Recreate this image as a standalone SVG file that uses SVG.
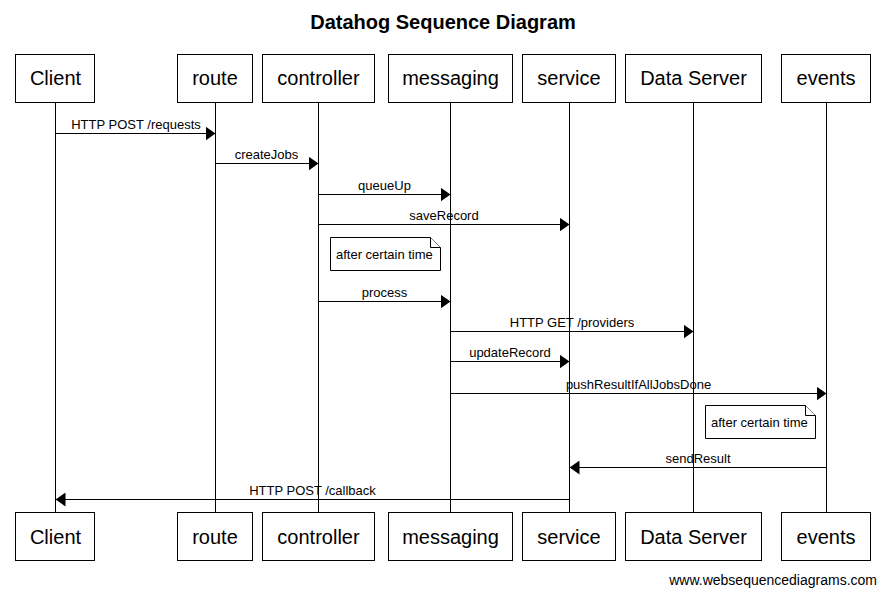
<svg xmlns="http://www.w3.org/2000/svg" width="885" height="595" viewBox="0 0 885 595">
<defs>
<marker id="ah" markerUnits="userSpaceOnUse" markerWidth="10" markerHeight="14" refX="10" refY="7" orient="auto">
<path d="M0,0 L10,7 L0,14 Z" fill="#000"/>
</marker>
<style>
.box{fill:#fff;stroke:#000;stroke-width:1}
.life{stroke:#000;stroke-width:1;fill:none}
.msg{stroke:#000;stroke-width:1;fill:none;marker-end:url(#ah)}
.pt{font-family:"Liberation Sans",Arial,sans-serif;font-size:20px;text-anchor:middle;fill:#000}
.ml{font-family:"Liberation Sans",Arial,sans-serif;font-size:13px;text-anchor:middle;fill:#000}
.nt{font-family:"Liberation Sans",Arial,sans-serif;font-size:13px;fill:#000}
.note{fill:#fff;stroke:#000;stroke-width:1}
</style>
</defs>
<rect width="885" height="595" fill="#fff"/>
<text x="443" y="29" font-family="'Liberation Sans',Arial,sans-serif" font-size="20" font-weight="bold" text-anchor="middle">Datahog Sequence Diagram</text>
<g id="lifelines">
<line class="life" x1="55.5" y1="103" x2="55.5" y2="512"/>
<line class="life" x1="215.5" y1="103" x2="215.5" y2="512"/>
<line class="life" x1="318.5" y1="103" x2="318.5" y2="512"/>
<line class="life" x1="450.5" y1="103" x2="450.5" y2="512"/>
<line class="life" x1="569.5" y1="103" x2="569.5" y2="512"/>
<line class="life" x1="693.5" y1="103" x2="693.5" y2="512"/>
<line class="life" x1="826.5" y1="103" x2="826.5" y2="512"/>
</g>
<g id="Client">
<rect class="box" x="15.5" y="54.5" width="79" height="48"/><text class="pt" x="55.5" y="85">Client</text>
<rect class="box" x="15.5" y="512.5" width="79" height="48"/><text class="pt" x="55.5" y="544">Client</text>
</g>
<g id="route">
<rect class="box" x="177.5" y="54.5" width="75" height="48"/><text class="pt" x="215" y="85">route</text>
<rect class="box" x="177.5" y="512.5" width="75" height="48"/><text class="pt" x="215" y="544">route</text>
</g>
<g id="controller">
<rect class="box" x="262.5" y="54.5" width="112" height="48"/><text class="pt" x="318.5" y="85">controller</text>
<rect class="box" x="262.5" y="512.5" width="112" height="48"/><text class="pt" x="318.5" y="544">controller</text>
</g>
<g id="messaging">
<rect class="box" x="388.5" y="54.5" width="124" height="48"/><text class="pt" x="450.5" y="85">messaging</text>
<rect class="box" x="388.5" y="512.5" width="124" height="48"/><text class="pt" x="450.5" y="544">messaging</text>
</g>
<g id="service">
<rect class="box" x="522.5" y="54.5" width="93" height="48"/><text class="pt" x="569" y="85">service</text>
<rect class="box" x="522.5" y="512.5" width="93" height="48"/><text class="pt" x="569" y="544">service</text>
</g>
<g id="DataServer">
<rect class="box" x="625.5" y="54.5" width="136" height="48"/><text class="pt" x="693.5" y="85">Data Server</text>
<rect class="box" x="625.5" y="512.5" width="136" height="48"/><text class="pt" x="693.5" y="544">Data Server</text>
</g>
<g id="events">
<rect class="box" x="781.5" y="54.5" width="89" height="48"/><text class="pt" x="826" y="85">events</text>
<rect class="box" x="781.5" y="512.5" width="89" height="48"/><text class="pt" x="826" y="544">events</text>
</g>
<g id="note1">
<path class="note" d="M330.5,237.5 H430.5 L440.5,247.5 V270.5 H330.5 Z"/>
<path class="note" d="M430.5,237.5 V247.5 H440.5"/>
<text class="nt" x="336" y="259">after certain time</text>
</g>
<g id="note2">
<path class="note" d="M705.5,405.5 H805.5 L815.5,415.5 V438.5 H705.5 Z"/>
<path class="note" d="M805.5,405.5 V415.5 H815.5"/>
<text class="nt" x="711" y="427">after certain time</text>
</g>
<g id="connectors">
<line class="msg" x1="55.5" y1="133.5" x2="215.5" y2="133.5"/>
<text class="ml" x="136" y="129">HTTP POST /requests</text>
<line class="msg" x1="215.5" y1="163.5" x2="318.5" y2="163.5"/>
<text class="ml" x="266.5" y="159">createJobs</text>
<line class="msg" x1="318.5" y1="194.5" x2="450.5" y2="194.5"/>
<text class="ml" x="384.5" y="190">queueUp</text>
<line class="msg" x1="318.5" y1="224.5" x2="569.5" y2="224.5"/>
<text class="ml" x="444" y="220">saveRecord</text>
<line class="msg" x1="318.5" y1="301.5" x2="450.5" y2="301.5"/>
<text class="ml" x="384.5" y="297">process</text>
<line class="msg" x1="450.5" y1="331.5" x2="693.5" y2="331.5"/>
<text class="ml" x="572" y="327">HTTP GET /providers</text>
<line class="msg" x1="450.5" y1="361.5" x2="569.5" y2="361.5"/>
<text class="ml" x="510" y="357">updateRecord</text>
<line class="msg" x1="450.5" y1="393.5" x2="826.5" y2="393.5"/>
<text class="ml" x="638.5" y="389">pushResultIfAllJobsDone</text>
<line class="msg" x1="826.5" y1="467.5" x2="569.5" y2="467.5"/>
<text class="ml" x="698" y="463">sendResult</text>
<line class="msg" x1="569.5" y1="499.5" x2="55.5" y2="499.5"/>
<text class="ml" x="312.5" y="495">HTTP POST /callback</text>
</g>
<text x="877" y="585" font-family="'Liberation Sans',Arial,sans-serif" font-size="14" text-anchor="end">www.websequencediagrams.com</text>
</svg>
